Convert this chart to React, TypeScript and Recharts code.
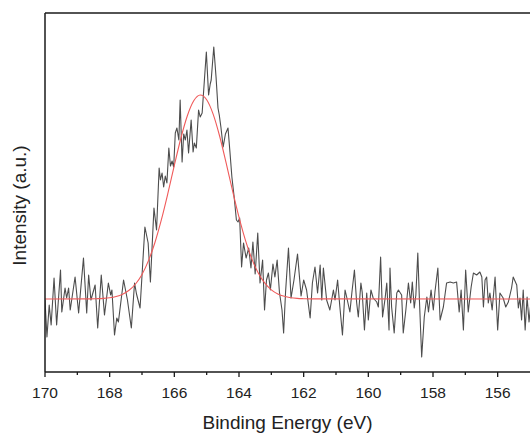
import React from 'react';
import { LineChart, Line, XAxis, YAxis, ReferenceLine } from 'recharts';

// Measured spectrum (binding energy in eV, intensity in a.u.)
const energy: number[] = [
  170.0, 169.94, 169.87, 169.81, 169.72, 169.64, 169.52, 169.48, 169.38, 169.33,
  169.27, 169.22, 169.07, 168.96, 168.81, 168.71, 168.65, 168.58, 168.45, 168.37,
  168.26, 168.16, 168.04, 167.97, 167.93, 167.85, 167.78, 167.73, 167.57, 167.45,
  167.33, 167.23, 167.17, 167.06, 166.91, 166.81, 166.74, 166.63, 166.55, 166.47,
  166.43, 166.38, 166.33, 166.28, 166.23, 166.17, 166.12, 166.07, 166.02, 165.97,
  165.92, 165.86, 165.82, 165.76, 165.71, 165.66, 165.61, 165.56, 165.48, 165.42,
  165.38, 165.32, 165.25, 165.2, 165.14, 165.07, 165.01, 164.94, 164.89, 164.86,
  164.78, 164.71, 164.65, 164.61, 164.56, 164.49, 164.42, 164.34, 164.28, 164.22,
  164.15, 164.08, 164.03, 163.98, 163.92, 163.86, 163.78, 163.7, 163.63, 163.57,
  163.5, 163.42, 163.35, 163.27, 163.21, 163.15, 163.09, 163.03, 162.95, 162.89,
  162.82, 162.75, 162.67, 162.62, 162.56, 162.47, 162.39, 162.3, 162.19, 162.08,
  162.0, 161.91, 161.8, 161.73, 161.65, 161.57, 161.49, 161.44, 161.39, 161.29,
  161.19, 161.08, 161.03, 160.95, 160.88, 160.8, 160.72, 160.67, 160.57, 160.51,
  160.43, 160.36, 160.31, 160.23, 160.19, 160.12, 160.05, 160.0, 159.92, 159.85,
  159.74, 159.69, 159.62, 159.56, 159.48, 159.43, 159.36, 159.33, 159.28, 159.2,
  159.12, 159.07, 158.97, 158.92, 158.84, 158.76, 158.69, 158.64, 158.58, 158.53,
  158.47, 158.42, 158.35, 158.27, 158.19, 158.14, 158.06, 157.99, 157.94, 157.85,
  157.78, 157.68, 157.58, 157.47, 157.37, 157.27, 157.19, 157.13, 157.06, 156.99,
  156.91, 156.82, 156.75, 156.65, 156.55, 156.49, 156.44, 156.39, 156.34, 156.29,
  156.24, 156.17, 156.08, 156.0, 155.93, 155.83, 155.75, 155.67, 155.57, 155.52,
  155.41, 155.36, 155.31, 155.26, 155.21, 155.15, 155.09, 155.03, 154.97,
];

const intensity: number[] = [
  72, 35, 67, 47, 94, 47, 102, 60, 84, 74,
  84, 62, 95, 59, 114, 59, 97, 72, 87, 44,
  97, 57, 89, 77, 82, 37, 54, 50, 92, 72,
  44, 89, 78, 64, 145, 129, 90, 164, 142, 204,
  192, 199, 185, 196, 189, 224, 206, 211, 205, 239,
  244, 232, 272, 210, 238, 232, 242, 219, 252, 220,
  229, 224, 262, 255, 259, 292, 320, 277, 288, 292,
  325, 295, 264, 257, 245, 225, 238, 244, 220, 195,
  175, 152, 150, 154, 105, 129, 114, 124, 104, 130,
  98, 139, 89, 112, 62, 92, 99, 82, 108, 95,
  112, 80, 62, 39, 80, 124, 74, 92, 118, 76,
  92, 82, 54, 89, 105, 79, 107, 72, 104, 72,
  62, 82, 72, 92, 65, 37, 82, 75, 60, 79,
  102, 69, 55, 89, 80, 42, 79, 52, 82, 74,
  70, 65, 115, 55, 74, 89, 42, 104, 65, 39,
  79, 82, 77, 39, 62, 89, 69, 90, 64, 77,
  119, 72, 15, 55, 75, 60, 82, 62, 80, 104,
  52, 65, 89, 90, 89, 90, 60, 82, 42, 102,
  60, 85, 99, 97, 100, 95, 65, 92, 95, 69,
  79, 62, 95, 42, 79, 74, 65, 70, 84, 95,
  87, 64, 74, 52, 82, 42, 75, 50, 70,
];

// Fitted peak curve
const fitEnergy: number[] = [
  170.0, 168.6, 168.4, 168.2, 168.0, 167.8, 167.6, 167.4, 167.2, 167.0,
  166.8, 166.6, 166.4, 166.2, 166.0, 165.8, 165.6, 165.4, 165.2, 165.0,
  164.8, 164.6, 164.4, 164.2, 164.0, 163.8, 163.6, 163.4, 163.2, 163.0,
  162.8, 162.6, 162.4, 162.2, 162.0, 161.8, 155.0,
];
const fitIntensity: number[] = [
  73, 73.1, 73.3, 73.6, 74.2, 75.5, 77.8, 81.7, 88, 97.5,
  111.4, 129.5, 152.3, 178.6, 206.6, 233.5, 256, 271.2, 277, 272.3,
  257.9, 236, 209.3, 181.3, 154.8, 131.6, 112.9, 98.8, 88.8, 82.2,
  78.1, 75.7, 74.3, 73.6, 73.3, 73.1, 73,
];

const xTicks: number[] = [170, 169, 168, 167, 166, 165, 164, 163, 162, 161, 160, 159, 158, 157, 156];
const xTitle = 'Binding Energy (eV)';
const yTitle = 'Intensity (a.u.)';

const rawData = energy.map((e, i) => ({ e, v: intensity[i] }));
const fitData = fitEnergy.map((e, i) => ({ e, v: fitIntensity[i] }));

const FONT = '"Liberation Sans", Arial, sans-serif';
const AXIS_COLOR = '#1a1a1a';

const XTick = (props: any) => {
  const { x, y, payload } = props;
  const major = Math.round(payload.value) % 2 === 0;
  return (
    <g>
      <line x1={x} x2={x} y1={y} y2={y + (major ? 5 : 3)} stroke={AXIS_COLOR} strokeWidth={1.3} />
      {major && (
        <text x={x} y={y + 25.5} textAnchor="middle" fontSize={15.5} fontFamily={FONT} fill="#222">
          {payload.value}
        </text>
      )}
    </g>
  );
};

const XLabel = (props: any) => {
  const vb = props.viewBox || { x: 45, y: 372, width: 485, height: 61 };
  return (
    <text x={vb.x + vb.width / 2} y={vb.y + 56.5} textAnchor="middle" fontSize={19} fontFamily={FONT} fill="#222">
      {xTitle}
    </text>
  );
};

const YLabel = (props: any) => {
  const vb = props.viewBox || { x: 0, y: 13, width: 45, height: 359 };
  const cx = vb.x + 26;
  const cy = vb.y + vb.height / 2 + 13;
  return (
    <text
      x={cx}
      y={cy}
      textAnchor="middle"
      fontSize={19}
      fontFamily={FONT}
      fill="#222"
      transform={`rotate(-90, ${cx}, ${cy})`}
    >
      {yTitle}
    </text>
  );
};

export default function App() {
  return (
    <div
      style={{
        position: 'absolute',
        left: 0,
        top: 0,
        width: 531,
        height: 433,
        overflow: 'hidden',
        background: '#fff',
      }}
    >
      <LineChart width={531} height={433} margin={{ top: 13, right: 1, bottom: 0, left: 0 }}>
        <XAxis
          type="number"
          dataKey="e"
          domain={[155, 170]}
          reversed
          allowDataOverflow
          ticks={xTicks}
          interval={0}
          tick={<XTick />}
          tickLine={false}
          tickSize={0}
          tickMargin={0}
          height={61}
          axisLine={{ stroke: AXIS_COLOR, strokeWidth: 1.5 }}
          label={XLabel}
        />
        <YAxis
          type="number"
          domain={[0, 359]}
          allowDataOverflow
          tick={false}
          tickLine={false}
          width={45}
          axisLine={{ stroke: AXIS_COLOR, strokeWidth: 1.5 }}
          label={YLabel}
        />
        <ReferenceLine y={359} stroke={AXIS_COLOR} strokeWidth={1.5} />
        <Line
          data={rawData}
          dataKey="v"
          type="linear"
          stroke="#4d4d4d"
          strokeWidth={1.1}
          strokeLinejoin="round"
          dot={false}
          isAnimationActive={false}
        />
        <Line
          data={fitData}
          dataKey="v"
          type="monotone"
          stroke="#f05a5a"
          strokeWidth={1.1}
          dot={false}
          isAnimationActive={false}
        />
      </LineChart>
    </div>
  );
}
